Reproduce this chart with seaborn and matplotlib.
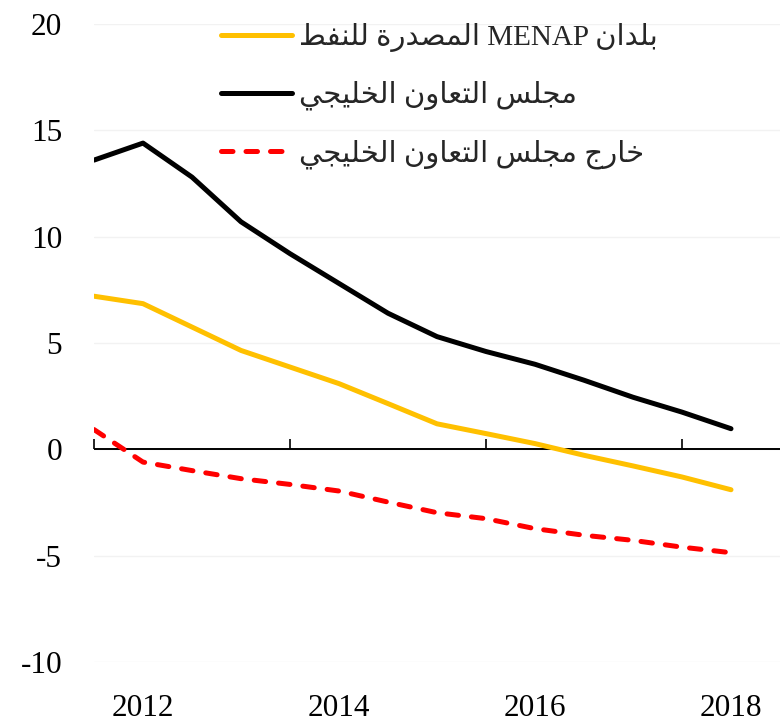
import matplotlib
matplotlib.use("Agg")
import matplotlib.pyplot as plt
import seaborn as sns
import pandas as pd

# ---- data ----
years = [2011.5, 2012.0, 2012.5, 2013.0, 2013.5, 2014.0, 2014.5, 2015.0,
         2015.5, 2016.0, 2016.5, 2017.0, 2017.5, 2018.0]
menap_oil = [7.2, 6.85, 5.75, 4.65, 3.87, 3.09, 2.15, 1.2,
             0.74, 0.27, -0.28, -0.78, -1.3, -1.9]
gcc = [13.6, 14.4, 12.8, 10.7, 9.2, 7.8, 6.4, 5.3,
       4.6, 4.0, 3.25, 2.45, 1.75, 0.97]
non_gcc = [0.93, -0.6, -1.0, -1.38, -1.65, -1.96, -2.48, -2.98,
           -3.26, -3.73, -4.04, -4.28, -4.6, -4.86]

series_names = ["بلدان MENAP المصدرة للنفط",
                "مجلس التعاون الخليجي",
                "خارج مجلس التعاون الخليجي"]
series_values = [menap_oil, gcc, non_gcc]
series_colors = ["#FFC000", "#000000", "#FF0000"]

x_tick_labels = ["2012", "2014", "2016", "2018"]
x_tick_pos = [2012, 2014, 2016, 2018]
boundary_ticks = [2011.5, 2013.5, 2015.5, 2017.5]
y_ticks = [-10, -5, 0, 5, 10, 15, 20]

# ---- simple Arabic shaping (presentation forms, visual order) ----
FORMS = {
    'ا': ('\uFE8D', '\uFE8E', None, None),
    'ب': ('\uFE8F', '\uFE90', '\uFE91', '\uFE92'),
    'ة': ('\uFE93', '\uFE94', None, None),
    'ت': ('\uFE95', '\uFE96', '\uFE97', '\uFE98'),
    'ج': ('\uFE9D', '\uFE9E', '\uFE9F', '\uFEA0'),
    'خ': ('\uFEA5', '\uFEA6', '\uFEA7', '\uFEA8'),
    'د': ('\uFEA9', '\uFEAA', None, None),
    'ر': ('\uFEAD', '\uFEAE', None, None),
    'س': ('\uFEB1', '\uFEB2', '\uFEB3', '\uFEB4'),
    'ص': ('\uFEB9', '\uFEBA', '\uFEBB', '\uFEBC'),
    'ط': ('\uFEC1', '\uFEC2', '\uFEC3', '\uFEC4'),
    'ع': ('\uFEC9', '\uFECA', '\uFECB', '\uFECC'),
    'ف': ('\uFED1', '\uFED2', '\uFED3', '\uFED4'),
    'ل': ('\uFEDD', '\uFEDE', '\uFEDF', '\uFEE0'),
    'م': ('\uFEE1', '\uFEE2', '\uFEE3', '\uFEE4'),
    'ن': ('\uFEE5', '\uFEE6', '\uFEE7', '\uFEE8'),
    'و': ('\uFEED', '\uFEEE', None, None),
    'ي': ('\uFEF1', '\uFEF2', '\uFEF3', '\uFEF4'),
}


def shape_word(w):
    out = []
    for i, c in enumerate(w):
        if c not in FORMS:
            out.append(c)
            continue
        prev = w[i - 1] if i > 0 else None
        nxt = w[i + 1] if i + 1 < len(w) else None
        jp = prev in FORMS and FORMS[prev][2] is not None
        jn = nxt in FORMS and FORMS[c][2] is not None
        iso, fin, ini, med = FORMS[c]
        if jp and jn:
            out.append(med)
        elif jp:
            out.append(fin)
        elif jn:
            out.append(ini)
        else:
            out.append(iso)
    return ''.join(reversed(out))


def visual(s):
    words = s.split(' ')
    res = []
    for w in reversed(words):
        if any(ch in FORMS for ch in w):
            res.append(shape_word(w))
        else:
            res.append(w)
    return ' '.join(res)


# ---- figure ----
sns.set_theme(style="white")
plt.rcParams['font.family'] = ['Liberation Serif', 'DejaVu Sans']

fig = plt.figure(figsize=(7.82, 7.23), dpi=100)
ax = fig.add_axes([94 / 782, 1 - 662 / 723, (780 - 94) / 782, (662 - 24) / 723])

LW = 3.6
for name, vals, col in zip(series_names, series_values, series_colors):
    df = pd.DataFrame({"year": years, "value": vals})
    sns.lineplot(data=df, x="year", y="value", color=col, lw=LW,
                 label=visual(name), ax=ax)
    ln = ax.lines[-1]
    ln.set_solid_capstyle('round')
    ln.set_solid_joinstyle('round')
    if col == "#FF0000":
        ln.set_dashes((2.3, 2.6))
        ln.set_dash_capstyle('round')
    ln.set_zorder(3)

ax.set_xlim(2011.5, 2018.5)
ax.set_ylim(-10, 20)
ax.set_xlabel("")
ax.set_ylabel("")

ax.set_yticks(y_ticks)
ax.set_yticklabels([str(v) for v in y_ticks])
ax.set_xticks(x_tick_pos)
ax.set_xticklabels(x_tick_labels)
ax.tick_params(axis='both', length=0, labelsize=22.5, colors='black')
ax.tick_params(axis='y', pad=23)
ax.tick_params(axis='x', pad=23)
for t in ax.get_xticklabels() + ax.get_yticklabels():
    t.set_fontfamily('Liberation Serif')

for s in ax.spines.values():
    s.set_visible(False)

ax.grid(axis='y', color='#F2F2F2', lw=1.0)
ax.grid(axis='x', visible=False)
ax.axhline(0, color='black', lw=1.4, zorder=2)

sec = ax.secondary_xaxis((0 - (-10)) / 30)
sec.set_xticks(boundary_ticks)
sec.xaxis.set_ticks_position('bottom')
sec.tick_params(axis='x', direction='in', length=7, width=1.2, color='black',
                labelbottom=False, labeltop=False)
for s in sec.spines.values():
    s.set_visible(False)

leg = ax.legend(loc='upper left', bbox_to_anchor=(221 / 782, 1 - 23 / 723),
                bbox_transform=fig.transFigure, frameon=False,
                prop={'family': ['Liberation Serif', 'DejaVu Sans'], 'size': 21},
                handlelength=2.45, handletextpad=0.24, labelspacing=0.99,
                borderpad=0, borderaxespad=0)
for h in leg.get_lines():
    h.set_linewidth(LW)
    h.set_solid_capstyle('round')
    h.set_dash_capstyle('round')

fig.savefig("out.png", dpi=100)
